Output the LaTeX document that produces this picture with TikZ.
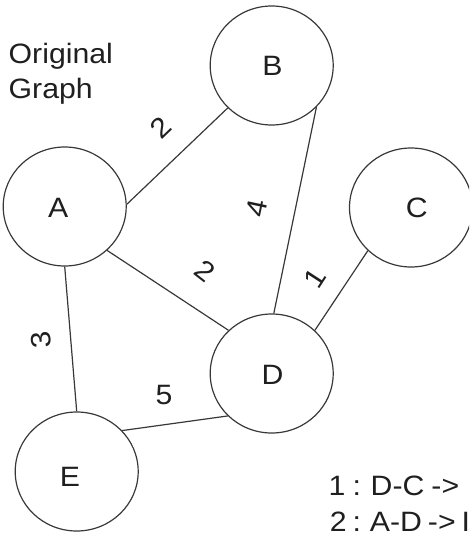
\documentclass[tikz,border=0pt]{standalone}
\usepackage{fontspec}
\setmainfont{Liberation Sans}[FakeStretch=1.08]
\usetikzlibrary{shapes.geometric}
\begin{document}
\begin{tikzpicture}[x=1pt,y=-1pt,
  vert/.style={ellipse,draw=black!78,line width=1.2pt,minimum width=123pt,minimum height=119pt,inner sep=0pt},
  lbl/.style={inner sep=0pt,font=\fontsize{28}{33}\selectfont,text=black!88},
  wt/.style={inner sep=0pt,font=\fontsize{28}{33}\selectfont,text=black!88},
  edge/.style={draw=black!78,line width=1.2pt},
  txt/.style={inner sep=0pt,anchor=base west,font=\fontsize{28}{33}\selectfont,text=black!88}]
\useasboundingbox (0,0) rectangle (469,535);
\clip (0,0) rectangle (469,535);
% vertices
\node[vert] (A) at (64.7,206.5) {};
\node[vert] (B) at (271.7,65.5) {};
\node[vert] (C) at (411,207.5) {};
\node[vert] (D) at (271.7,373.5) {};
\node[vert] (E) at (76.7,471.5) {};
\node[lbl] (lA) at (58.3,208) {A};
\node[lbl] (lB) at (272.5,66) {B};
\node[lbl] (lC) at (416.7,207.5) {C};
\node[lbl] (lD) at (272.5,375) {D};
\node[lbl] (lE) at (70,476.5) {E};
% edges
\draw[edge] (A.2) -- (B.224);
\draw[edge] (B.-43) -- (D.88);
\draw[edge] (A.-46) -- (D.135);
\draw[edge] (C.225) -- (D.45);
\draw[edge] (A.-90) -- (E.90);
\draw[edge] (E.42) -- (D.224);
% weights
\node[wt,rotate=44] (wAB) at (161,128) {2};
\node[wt,rotate=78] (wBD) at (257,208) {4};
\node[wt,rotate=-38] (wAD) at (205,271) {2};
\node[wt,rotate=57] (wCD) at (315,278) {1};
\node[wt,rotate=95] (wAE) at (41,340) {3};
\node[wt] (wED) at (164,395) {5};
% texts
\node[txt] (t1) at (8.5,63.3) {Original};
\node[txt] (t2) at (8.5,98.3) {Graph};
\node[txt] (s1) at (328.5,495) {\spaceskip=7pt\relax 1 : D-C ->};
\node[txt] (s2) at (329.7,531.7) {\spaceskip=6pt\relax 2 : A-D -> I};
\end{tikzpicture}
\end{document}
